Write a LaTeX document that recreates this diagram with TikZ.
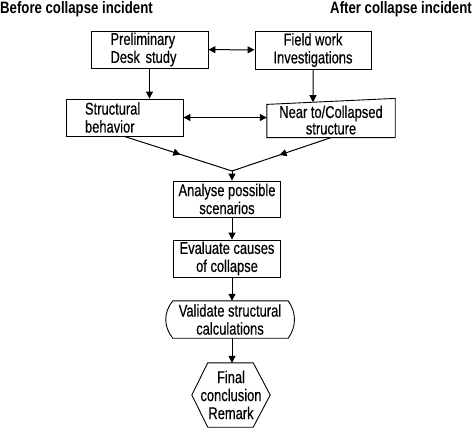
\documentclass[tikz,border=0pt]{standalone}
\usepackage{fontspec}
\setmainfont{Liberation Sans}[FakeStretch=0.76, FakeBold=0.4]
\newfontfamily\titlefont{Liberation Sans}[FakeStretch=0.8]
\usetikzlibrary{arrows.meta,decorations.markings,calc}

\tikzset{
  boxline/.style={line width=0.9pt},
  box/.style={boxline, draw, minimum height=37pt, inner sep=1pt, align=center,
    font=\fontsize{17}{18}\selectfont},
  plain/.style={inner sep=1pt, align=center, font=\fontsize{17}{18}\selectfont},
  title/.style={font=\titlefont\bfseries\fontsize{16.5}{18}\selectfont, inner sep=0pt},
  arr/.style={line width=1pt, -{Triangle[length=7pt,width=7pt]}},
  dbl/.style={line width=1pt, {Triangle[length=7pt,width=7pt]}-{Triangle[length=7pt,width=7pt]}},
  midarr/.style={line width=1pt, postaction={decorate},
    decoration={markings, mark=at position 0.52 with {\arrow{Triangle[length=7pt,width=7pt]}}}}
}

\begin{document}
\begin{tikzpicture}[x=1pt, y=-1pt]
	\useasboundingbox (0,0) rectangle (474,432);

	% 标题：事故前 / 事故后
	\node[title, anchor=base west] (before) at (0,13.5) {Before collapse incident};
	\node[title, anchor=base east] (after) at (472,13.5) {After collapse incident};

	% 第一层
	\node[box, minimum width=117pt, text width=78pt, align=left, inner xsep=19.5pt] (desk) at (149.5,49.5) {Preliminary\\Desk study};
	\node[box, minimum width=116pt, minimum height=38pt] (field) at (313,50) {Field work\\Investigations};

	% 第二层（右框上边倾斜）
	\node[box, minimum width=117pt, text width=79pt, align=left, inner xsep=19pt] (behav) at (124.5,117.5) {Structural\\behavior};
	\node[plain, minimum width=128pt, text depth=2pt, font=\fontsize{17}{16.5}\selectfont] (near) at (331,121) {Near to/Collapsed\\structure};
	\coordinate (nearTR) at ($(near.north east)+(0,-6)$);
	\draw[boxline] (near.north west) -- (nearTR) -- (near.south east) -- (near.south west) -- cycle;

	% 主干
	\node[box, minimum width=107pt, minimum height=36pt] (scen) at (227,199) {Analyse possible\\scenarios};
	\node[box, minimum width=107pt] (eval) at (227,258.5) {Evaluate causes\\of collapse};
	\node[plain, minimum width=130pt, minimum height=37pt] (valid) at (230,319.5) {Validate structural\\calculations};
	\draw[boxline] ($(valid.north west)+(8,0)$) -- ($(valid.north east)+(-7,0)$)
		to[bend left=35] ($(valid.south east)+(-7,0)$) -- ($(valid.south west)+(8,0)$)
		to[bend left=40] cycle;
	\node[plain, minimum width=78pt, minimum height=64pt] (final) at (231,395) {Final\\conclusion\\Remark};
	\draw[boxline] (final.west) -- ($(final.north west)+(16,0)$) -- ($(final.north east)+(-17,0)$)
		-- (final.east) -- ($(final.south east)+(-17,0)$) -- ($(final.south west)+(16,0)$) -- cycle;

	% 连线
	\draw[dbl] (desk) -- (field);
	\draw[dbl] (behav.east) -- (behav.east -| near.west);
	\draw[arr] (desk.south) -- (desk.south |- behav.north);
	\coordinate (fieldLow) at (field.south |- near.south);
	\coordinate (nearTop) at (intersection of field.south--fieldLow and near.north west--nearTR);
	\draw[arr] (field.south) -- (nearTop);

	% 汇合点
	\coordinate (join) at (232,171);
	\draw[midarr] (behav.south) -- (join);
	\draw[midarr] (near.south) -- (join);
	\draw[arr] (join) -- (join |- scen.north);
	\foreach \a/\b in {scen/eval, eval/valid, valid/final}
		\draw[arr] (\a.south -| join) -- (\b.north -| join);
\end{tikzpicture}
\end{document}
